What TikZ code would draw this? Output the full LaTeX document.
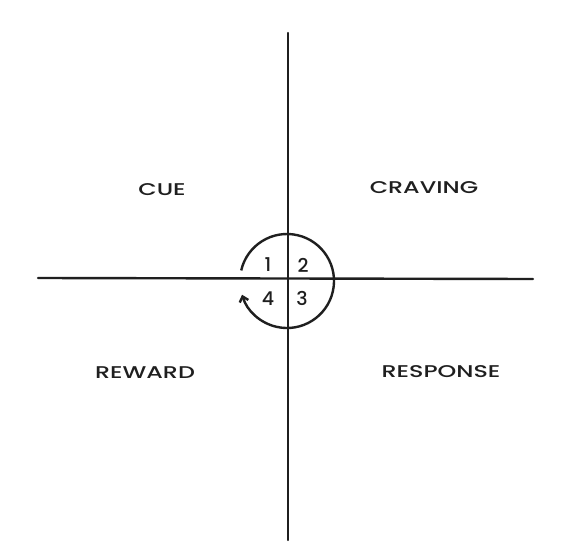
\documentclass[tikz,border=0pt]{standalone}
\usepackage{fontspec}
\setsansfont{Poppins}[UprightFont=* Medium,BoldFont=* SemiBold]
\usetikzlibrary{arrows.meta}
\newcommand{\wide}[1]{\scalebox{1.4}[1]{#1}}
\begin{document}
\begin{tikzpicture}[x=1pt,y=-1pt,
  axis/.style={line width=2.4pt,line cap=round,black!88},
  cyc/.style={line width=2.4pt,black!88,-{Straight Barb[length=5pt,width=9pt]}},
  lbl/.style={font=\sffamily\fontsize{17}{17}\selectfont,text=black!88},
  num/.style={font=\sffamily\fontsize{19}{19}\selectfont,text=black!88,inner sep=0pt}]
\useasboundingbox (0,0) rectangle (579,551);
\fill[white] (0,0) rectangle (579,551);
\coordinate (top) at (288,33);
\coordinate (bot) at (288,540);
\coordinate (lft) at (38,278);
\coordinate (rgt) at (533,279);
\coordinate (c) at (287,281);
\draw[axis] (top) -- (bot);
\draw[axis] (lft) -- (rgt);
\draw[cyc] ([shift={(-167:47)}]c) arc[start angle=-167,end angle=163,radius=47];
\node[num] (n1) at (268,265) {1};
\node[num] (n2) at (303,265) {2};
\node[num] (n3) at (302,298) {3};
\node[num] (n4) at (268,299) {4};
\node[lbl] (cue) at (162,190) {\wide{CUE}};
\node[lbl] (craving) at (424,188) {\wide{CRAVING}};
\node[lbl] (reward) at (145,373) {\wide{REWARD}};
\node[lbl] (response) at (441,372) {\wide{RESPONSE}};
\end{tikzpicture}
\end{document}
